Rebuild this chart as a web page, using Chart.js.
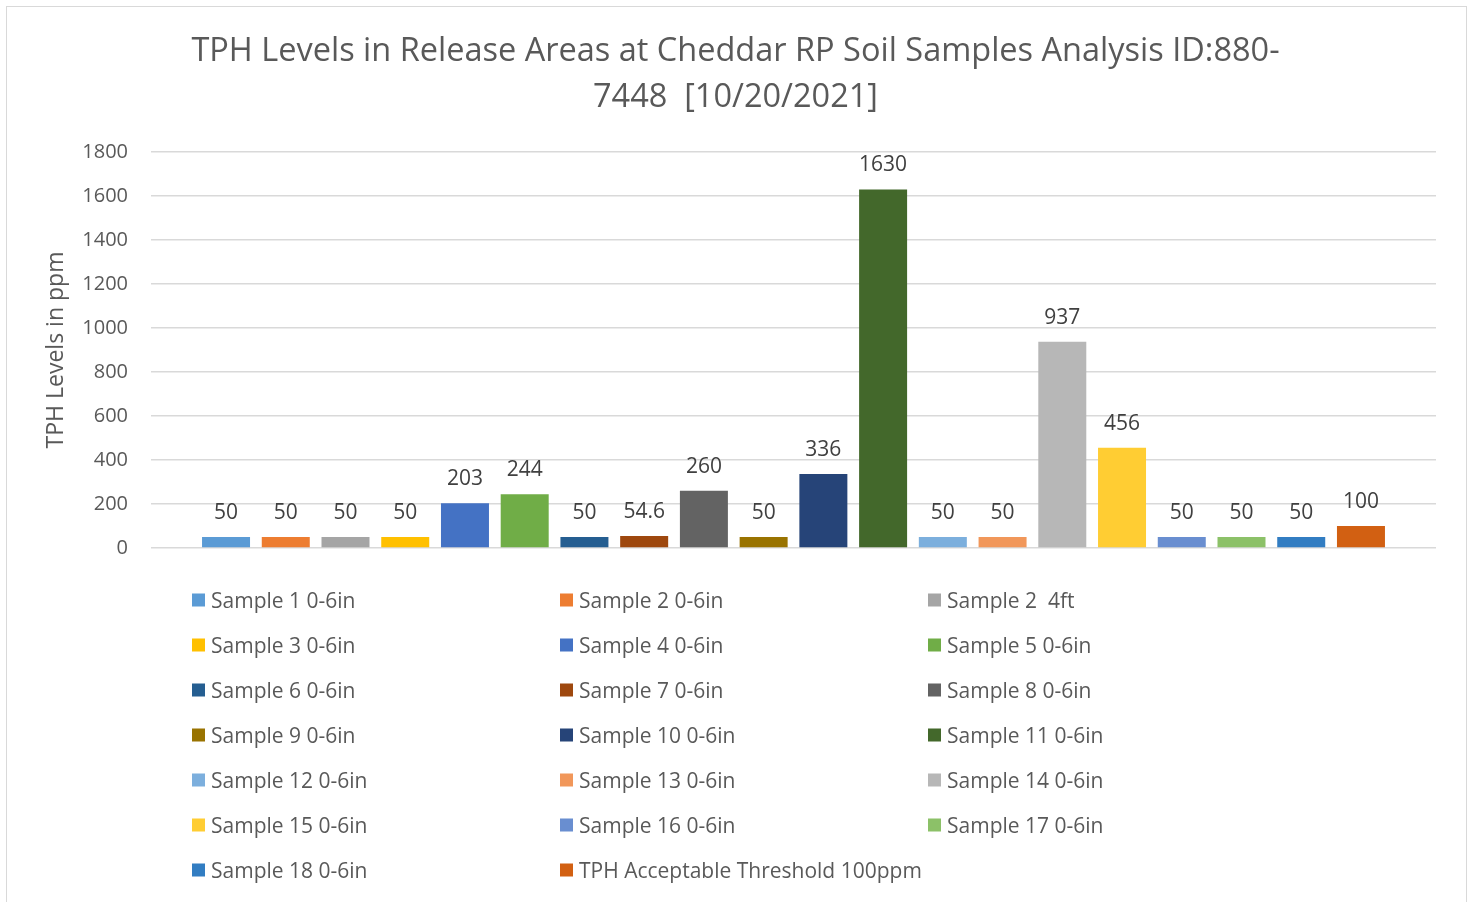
<!DOCTYPE html>
<html>
<head>
<meta charset="utf-8">
<script src="https://cdn.jsdelivr.net/npm/chart.js@4.4.1/dist/chart.umd.min.js"></script>
<style>
  html, body { margin:0; padding:0; background:#fff; overflow:hidden; }
  #frame { position:absolute; left:6px; top:6px; width:1459px; height:910px; border:1px solid #d9d9d9; }
  #wrap { position:absolute; left:0; top:0; width:1471px; height:902px; }
</style>
</head>
<body>
<div id="frame"></div>
<div id="wrap"><canvas id="chart-tph"></canvas></div>
<script>
// ---- data ----
const seriesNames = [
  'Sample 1 0-6in', 'Sample 2 0-6in', 'Sample 2  4ft', 'Sample 3 0-6in',
  'Sample 4 0-6in', 'Sample 5 0-6in', 'Sample 6 0-6in', 'Sample 7 0-6in',
  'Sample 8 0-6in', 'Sample 9 0-6in', 'Sample 10 0-6in', 'Sample 11 0-6in',
  'Sample 12 0-6in', 'Sample 13 0-6in', 'Sample 14 0-6in', 'Sample 15 0-6in',
  'Sample 16 0-6in', 'Sample 17 0-6in', 'Sample 18 0-6in', 'TPH Acceptable Threshold 100ppm'
];
const tphValues = [50, 50, 50, 50, 203, 244, 50, 54.6, 260, 50, 336, 1630, 50, 50, 937, 456, 50, 50, 50, 100];
const seriesColors = [
  '#5b9bd5', '#ed7d31', '#a5a5a5', '#ffc000', '#4472c4', '#70ad47', '#255e91', '#9e480e',
  '#636363', '#997300', '#264478', '#43682b', '#7cafdd', '#f1975a', '#b7b7b7', '#ffcd33',
  '#698ed0', '#8cc168', '#327dc2', '#d26012'
];
const categories = [''];
const titleLines = ['TPH Levels in Release Areas at Cheddar RP Soil Samples Analysis ID:880-', '7448  [10/20/2021]'];

const FONT = "'Open Sans', 'Noto Sans', sans-serif";
const TXT = '#595959';

// value labels above each bar
const valueLabels = {
  id: 'valueLabels',
  afterDatasetsDraw(chart) {
    const ctx = chart.ctx;
    ctx.save();
    ctx.font = '21px ' + FONT;
    ctx.fillStyle = '#404040';
    ctx.textAlign = 'center';
    ctx.textBaseline = 'middle';
    chart.data.datasets.forEach((ds, i) => {
      const meta = chart.getDatasetMeta(i);
      meta.data.forEach((bar, j) => {
        ctx.fillText(String(ds.data[j]), bar.x, bar.y - 24);
      });
    });
    ctx.restore();
  }
};

// 3-column legend under the plot, like the Excel one
const gridLegend = {
  id: 'gridLegend',
  afterDraw(chart) {
    const ctx = chart.ctx;
    ctx.save();
    ctx.font = '21px ' + FONT;
    ctx.textBaseline = 'middle';
    ctx.textAlign = 'left';
    chart.data.datasets.forEach((ds, i) => {
      const col = i % 3, row = Math.floor(i / 3);
      const x = 192 + col * 368;
      const y = 600 + row * 45;
      ctx.fillStyle = ds.backgroundColor;
      ctx.fillRect(x, y - 6.5, 13, 13);
      ctx.fillStyle = TXT;
      ctx.fillText(ds.label, x + 19, y + 2);
    });
    ctx.restore();
  }
};

new Chart(document.getElementById('chart-tph'), {
  type: 'bar',
  data: {
    labels: categories,
    datasets: seriesNames.map((name, i) => ({
      label: name,
      data: [tphValues[i]],
      backgroundColor: seriesColors[i],
      borderWidth: 0,
      categoryPercentage: 0.9297,
      barPercentage: 0.8035,
    }))
  },
  options: {
    responsive: true,
    maintainAspectRatio: false,
    animation: false,
    layout: { padding: { left: 35, right: 35, top: 0, bottom: 354 } },
    plugins: {
      legend: { display: false },
      tooltip: { enabled: false },
      title: {
        display: true,
        text: titleLines,
        color: TXT,
        font: { family: FONT, size: 32.5, weight: 'normal', lineHeight: 1.415 },
        padding: { top: 29, bottom: 31 }
      }
    },
    scales: {
      x: { display: false },
      y: {
        min: 0,
        max: 1800,
        ticks: { stepSize: 200, color: TXT, padding: 23, font: { family: FONT, size: 20 },
                 callback: v => String(v) },
        grid: { color: '#d9d9d9', lineWidth: 1.5, drawTicks: false },
        border: { display: false },
        title: {
          display: true,
          text: 'TPH Levels in ppm',
          color: TXT,
          font: { family: FONT, size: 23 },
          padding: { top: 8, bottom: 0 }
        },
        afterFit(scale) { scale.width = 116; }
      }
    }
  },
  plugins: [valueLabels, gridLegend]
});
</script>
</body>
</html>
